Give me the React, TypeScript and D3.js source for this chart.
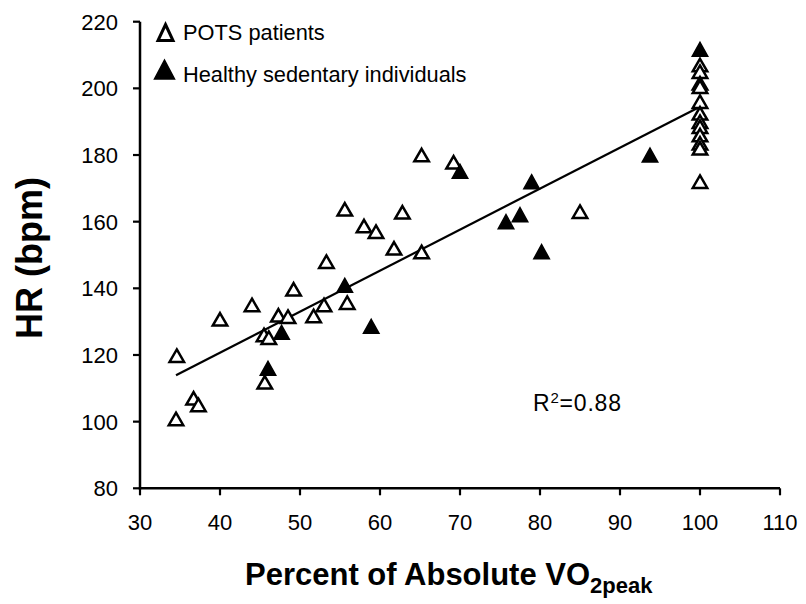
import React from 'react';
import * as d3 from 'd3';

// ---- data ----
const xTicks = [30, 40, 50, 60, 70, 80, 90, 100, 110];
const yTicks = [80, 100, 120, 140, 160, 180, 200, 220];

const potsX = [34.6, 34.5, 36.7, 37.3, 40, 44, 45.5, 46.1, 45.6, 47.3, 48.5, 49.2, 51.7, 53, 53.3, 55.6, 55.9, 58, 59.5, 61.75, 62.8, 65.2, 65.2, 69.2, 85,
  100, 100, 100, 100, 100, 100, 100, 100, 100, 100, 100, 100];
const potsY = [119.8, 100.8, 107, 105, 130.7, 135, 126, 125.2, 111.8, 131.9, 131.5, 139.7, 131.7, 135, 148, 163.7, 135.7, 158.7, 157, 152, 162.8, 180, 150.9, 177.8, 163,
  207, 205, 201.5, 200.5, 196, 192.5, 190, 188.5, 186, 183.5, 182, 172];

const healthyX = [46, 47.7, 55.6, 58.9, 70, 75.75, 77.5, 78.95, 80.2, 93.75, 100];
const healthyY = [116, 126.8, 140.9, 128.6, 175.1, 160, 162.1, 172, 151, 180, 211.7];

const fitSlope = 1.23;
const fitIntercept = 71.5;
const fitRange = [34.5, 100];

const legendLabels = ['POTS patients', 'Healthy sedentary individuals'];
const r2Value = '0.88';

const FONT = '"Liberation Sans", Arial, Helvetica, sans-serif';

function tri(w: number, h: number) {
  return `M0,${-h / 2}L${w / 2},${h / 2}L${-w / 2},${h / 2}Z`;
}

export default function App() {
  const W = 806;
  const H = 604;
  const left = 140, right = 780, top = 21.7, bottom = 488.3;
  const x = d3.scaleLinear().domain([30, 110]).range([left, right]);
  const y = d3.scaleLinear().domain([80, 220]).range([bottom, top]);

  const fitLine = d3.line<number>()
    .x(d => x(d))
    .y(d => y(fitIntercept + fitSlope * d))(fitRange) || '';

  const markerOpen = tri(14.5, 12.5);
  const markerFilled = tri(15.5, 14);

  return (
    <svg width={W} height={H} style={{ position: 'absolute', left: 0, top: 0, background: '#fff' }}
      fontFamily={FONT}>
      <rect x={0} y={0} width={W} height={H} fill="#fff" />
      {/* axes */}
      <line x1={left} x2={left} y1={top} y2={bottom + 1.2} stroke="#000" strokeWidth={2.5} />
      <line x1={left - 1.2} x2={right} y1={bottom} y2={bottom} stroke="#000" strokeWidth={2.5} />
      {yTicks.map(t => (
        <g key={'y' + t}>
          <line x1={left - 7} x2={left} y1={y(t)} y2={y(t)} stroke="#000" strokeWidth={2.2} />
          <text x={118} y={y(t)} dy="0.36em" textAnchor="end" fontSize={22} fill="#000">{t}</text>
        </g>
      ))}
      {xTicks.map(t => (
        <g key={'x' + t}>
          <line x1={x(t)} x2={x(t)} y1={bottom} y2={bottom + 7} stroke="#000" strokeWidth={2.2} />
          <text x={x(t)} y={530} textAnchor="middle" fontSize={22} fill="#000">{t}</text>
        </g>
      ))}

      {/* axis titles */}
      <text transform="translate(42,258) rotate(-90)" textAnchor="middle" fontSize={36} fontWeight="bold" fill="#000">HR (bpm)</text>
      <text x={245} y={585} fontSize={31} fontWeight="bold" fill="#000">
        Percent of Absolute VO<tspan fontSize={22} dy={8}>2peak</tspan>
      </text>

      {/* fit line */}
      <path d={fitLine} fill="none" stroke="#000" strokeWidth={2.2} />

      {/* POTS open triangles */}
      {potsX.map((v, i) => (
        <path key={'p' + i} d={markerOpen} transform={`translate(${x(v)},${y(potsY[i])})`}
          fill="#fff" stroke="#000" strokeWidth={2.5} strokeLinejoin="miter" />
      ))}
      {/* Healthy filled triangles */}
      {healthyX.map((v, i) => (
        <path key={'h' + i} d={markerFilled} transform={`translate(${x(v)},${y(healthyY[i])})`}
          fill="#000" stroke="#000" strokeWidth={1.5} strokeLinejoin="miter" />
      ))}

      {/* legend */}
      <path d={tri(15, 16)} transform="translate(165.5,32.5)" fill="#fff" stroke="#000" strokeWidth={3} />
      <text x={183} y={40} fontSize={21.8} fill="#000">{legendLabels[0]}</text>
      <path d={tri(20, 19)} transform="translate(164.5,69.5)" fill="#000" stroke="#000" strokeWidth={1.5} />
      <text x={183} y={82} fontSize={21.8} fill="#000">{legendLabels[1]}</text>

      {/* R^2 */}
      <text x={533} y={411} fontSize={23} letterSpacing={0.8} fill="#000">
        R<tspan fontSize={15} dy={-8}>2</tspan><tspan dy={8}>={r2Value}</tspan>
      </text>
    </svg>
  );
}
